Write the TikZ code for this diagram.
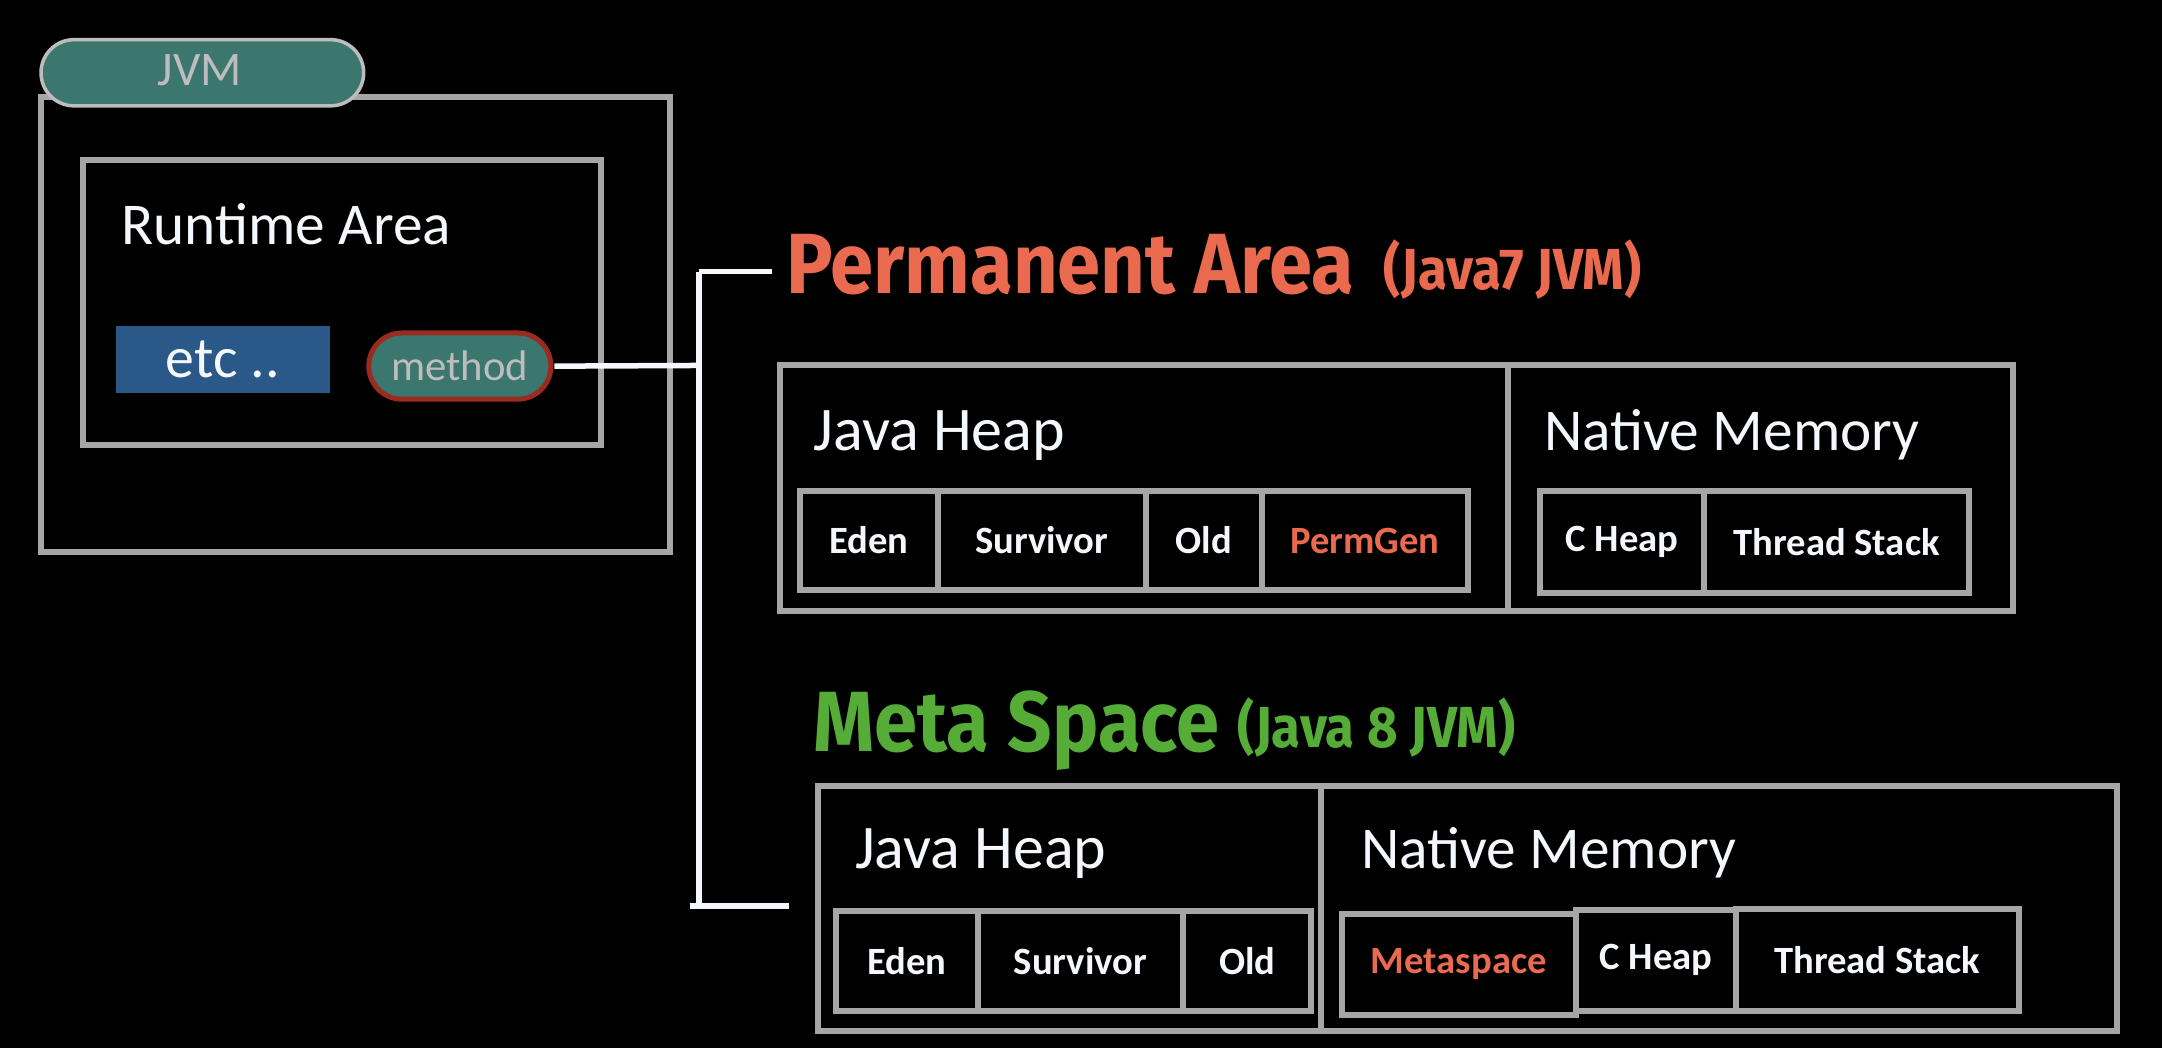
\documentclass[tikz,border=0pt]{standalone}
\usepackage{fontspec}
\setmainfont{Carlito}
\newfontfamily\titlefont[FakeStretch=0.91]{Fira Sans}
\definecolor{bgc}{HTML}{000000}
\definecolor{chalk}{HTML}{A6A6A6}
\definecolor{tealc}{HTML}{3B776E}
\definecolor{redc}{HTML}{9C2B1F}
\definecolor{bluec}{HTML}{2A5888}
\definecolor{orangec}{HTML}{EA6A50}
\definecolor{greenc}{HTML}{55AD38}
\definecolor{whitec}{HTML}{F4F8FC}
\definecolor{jvmtext}{HTML}{BDBDBD}
\tikzset{
  box/.style={draw=chalk, line width=6pt, rectangle, inner sep=0pt, anchor=north west},
  cell/.style={draw=chalk, line width=6pt, rectangle, inner sep=0pt, anchor=north west,
    text=whitec, font=\fontsize{28}{30}\selectfont\bfseries},
  heading/.style={text=whitec, inner sep=0pt, anchor=base west, font=\fontsize{45}{50}\selectfont},
  wire/.style={draw=whitec, line width=5.5pt},
  titlebig/.style={inner sep=0pt, anchor=base west, font=\titlefont\fontsize{62}{64}\selectfont\bfseries},
  titlesmall/.style={inner sep=0pt, anchor=base west, font=\titlefont\fontsize{42}{44}\selectfont\bfseries},
  pill/.style={fill=tealc, rounded corners=33pt, anchor=north west, inner sep=0pt},
}
\begin{document}
\begin{tikzpicture}[x=1pt,y=-1pt,scale=1.37883,every node/.append style={transform shape}]
\fill[bgc] (0,0) rectangle (1568,760);
\useasboundingbox (0,0) rectangle (1568,760);

% JVM
\node[box, minimum width=456, minimum height=330] (jvm) at (27,67) {};
\node[pill, draw=jvmtext, line width=3.5pt, minimum width=234, minimum height=48] (jvmlabel) at (28,27) {};
\node[text=jvmtext, font=\fontsize{35}{37}\selectfont] (jvmtxt) at (145,51) {JVM};

\node[box, minimum width=376, minimum height=207] (runtime) at (57,113) {};
\node[heading, font=\fontsize{43}{46}\selectfont] (runtimetxt) at (88,177) {Runtime Area};
\node[fill=bluec, minimum width=155, minimum height=49, anchor=north west, inner sep=0pt,
  text=whitec, font=\fontsize{42}{44}\selectfont] (etc) at (84,236) {etc ..};
\node[pill, draw=redc, line width=5pt, minimum width=132, minimum height=48,
  text=jvmtext, font=\fontsize{31}{33}\selectfont] (method) at (265,239) {method};

% connectors
\coordinate (jm) at (507,265);
\coordinate (jt) at (507,197);
\coordinate (jb) at (507,657);
\coordinate (pt) at (560,197);
\coordinate (bs) at (500,657);
\coordinate (mb) at (572,657);
\draw[wire] (method.east) -- (jm);
\draw[wire] (jt) -- (jb);
\draw[wire] (jt) -- (pt);
\draw[wire] (bs) -- (mb);

% Permanent area
\node[titlebig, text=orangec] (permtitle) at (570,213) {Permanent Area};
\node[titlesmall, text=orangec] (permsub) at (1003,210) {(Java7 JVM)};

\node[box, minimum width=528, minimum height=178] (permheap) at (563,262) {};
\node[box, minimum width=366, minimum height=178] (permnative) at (1091,262) {};
\node[heading] (ph) at (590,327) {Java Heap};
\node[heading, font=\fontsize{43}{46}\selectfont] (pn) at (1120,327) {Native Memory};

\node[cell, minimum width=100, minimum height=72] (eden1) at (577,353) {Eden};
\node[cell, minimum width=151, minimum height=72] (surv1) at (677,353) {Survivor};
\node[cell, minimum width=84, minimum height=72] (old1) at (828,353) {Old};
\node[cell, minimum width=150, minimum height=72, text=orangec] (perm1) at (912,353) {PermGen};

\node[cell, minimum width=119, minimum height=74] (cheap1) at (1114,353) {C Heap};
\node[cell, minimum width=192, minimum height=74] (ts1) at (1233,353) {Thread Stack};

% Meta space
\node[titlebig, text=greenc] (metatitle) at (590,545) {Meta Space};
\node[titlesmall, text=greenc] (metasub) at (897,542) {(Java 8 JVM)};

\node[box, minimum width=365, minimum height=178] (metaheap) at (590,567) {};
\node[box, minimum width=577, minimum height=178] (metanative) at (955,567) {};
\node[heading] (mh) at (620,630) {Java Heap};
\node[heading, font=\fontsize{43}{46}\selectfont] (mn) at (987,630) {Native Memory};

\node[cell, minimum width=103, minimum height=72] (eden2) at (603,658) {Eden};
\node[cell, minimum width=149, minimum height=72] (surv2) at (706,658) {Survivor};
\node[cell, minimum width=93, minimum height=72] (old2) at (855,658) {Old};

\node[cell, minimum width=170, minimum height=73, text=orangec] (metasp) at (970,660) {Metaspace};
\node[cell, minimum width=116, minimum height=73] (cheap2) at (1140,657) {C Heap};
\node[cell, minimum width=205, minimum height=74] (ts2) at (1256,656) {Thread Stack};
\end{tikzpicture}
\end{document}
